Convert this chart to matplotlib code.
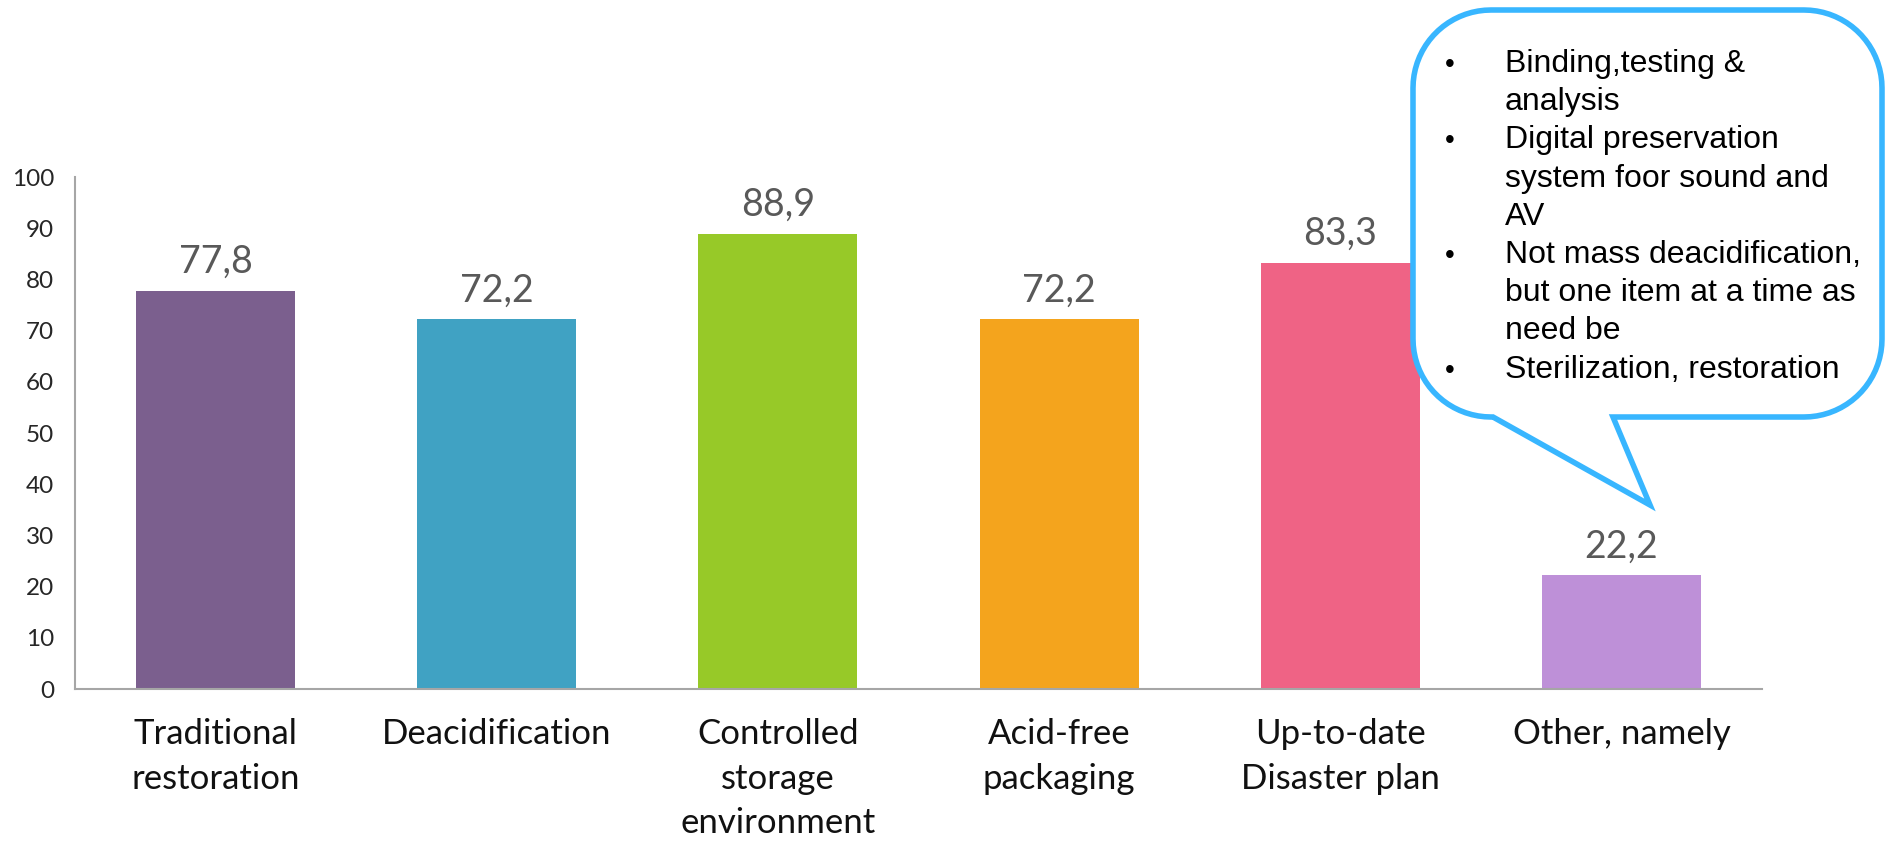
import numpy as np
import matplotlib
matplotlib.use("Agg")
import matplotlib.pyplot as plt
from matplotlib.patches import Polygon

categories = ["Traditional\nrestoration", "Deacidification", "Controlled\nstorage\nenvironment",
              "Acid-free\npackaging", "Up-to-date\nDisaster plan", "Other, namely"]
values = [77.8, 72.2, 88.9, 72.2, 83.3, 22.2]
value_labels = ["77,8", "72,2", "88,9", "72,2", "83,3", "22,2"]
colors = ["#7B5F8E", "#40A2C3", "#97C928", "#F4A41D", "#EF6385", "#BE90D8"]
yticks = [0, 10, 20, 30, 40, 50, 60, 70, 80, 90, 100]
callout_items = [["Binding,testing &", "analysis"],
                 ["Digital preservation", "system foor sound and", "AV"],
                 ["Not mass deacidification,", "but one item at a time as", "need be"],
                 ["Sterilization, restoration"]]

W, H = 1886, 841
fig = plt.figure(figsize=(W / 100, H / 100), dpi=100)
ax = fig.add_axes([75 / W, 1 - 689 / H, (1762 - 75) / W, (689 - 177) / H])

x = np.arange(len(categories))
ax.bar(x, values, width=0.565, color=colors)
for xi, v, lab in zip(x, values, value_labels):
    ax.text(xi, v + 3.5, lab, ha="center", va="baseline", fontsize=27,
            family="Lato", color="#595959")

ax.set_xlim(-0.5, len(categories) - 0.5)
ax.set_ylim(0, 100)
ax.set_yticks(yticks)
ax.set_yticklabels([str(t) for t in yticks], family="Lato", fontsize=17.5, color="#262626")
ax.set_xticks(x)
ax.set_xticklabels(categories, family="Lato", fontsize=25, color="#111111",
                   linespacing=1.48, va="top")
ax.tick_params(axis="y", length=0, pad=15)
ax.tick_params(axis="x", length=0, pad=21)
for s in ["top", "right"]:
    ax.spines[s].set_visible(False)
for s in ["left", "bottom"]:
    ax.spines[s].set_color("#A6A6A6")
    ax.spines[s].set_linewidth(1.5)

# callout overlay in pixel coordinates
ov = fig.add_axes([0, 0, 1, 1])
ov.set_xlim(0, W)
ov.set_ylim(H, 0)
ov.axis("off")

L, T, R, B, r = 1413, 10, 1882, 417, 78
def arc(cx, cy, a0, a1, n=20):
    a = np.radians(np.linspace(a0, a1, n))
    return list(zip(cx + r * np.cos(a), cy + r * np.sin(a)))
pts = []
pts += arc(L + r, T + r, 180, 270)          # top-left
pts += arc(R - r, T + r, 270, 360)          # top-right
pts += arc(R - r, B - r, 0, 90)             # bottom-right
pts += [(1613, B), (1650, 505), (1493, B)]  # tail
pts += arc(L + r, B - r, 90, 180)           # bottom-left
poly = Polygon(pts, closed=True, facecolor="white", edgecolor="#38B6FF",
               linewidth=4.0, joinstyle="miter", zorder=5)
ov.add_patch(poly)

y0, dy = 72, 38.2
line = 0
for item in callout_items:
    ov.text(1450, y0 + line * dy, "•", fontsize=20, family="Liberation Sans",
            ha="center", va="baseline", zorder=6)
    for t in item:
        ov.text(1505, y0 + line * dy, t, fontsize=23, family="Liberation Sans",
                ha="left", va="baseline", zorder=6)
        line += 1

fig.savefig("out.png", dpi=100)
